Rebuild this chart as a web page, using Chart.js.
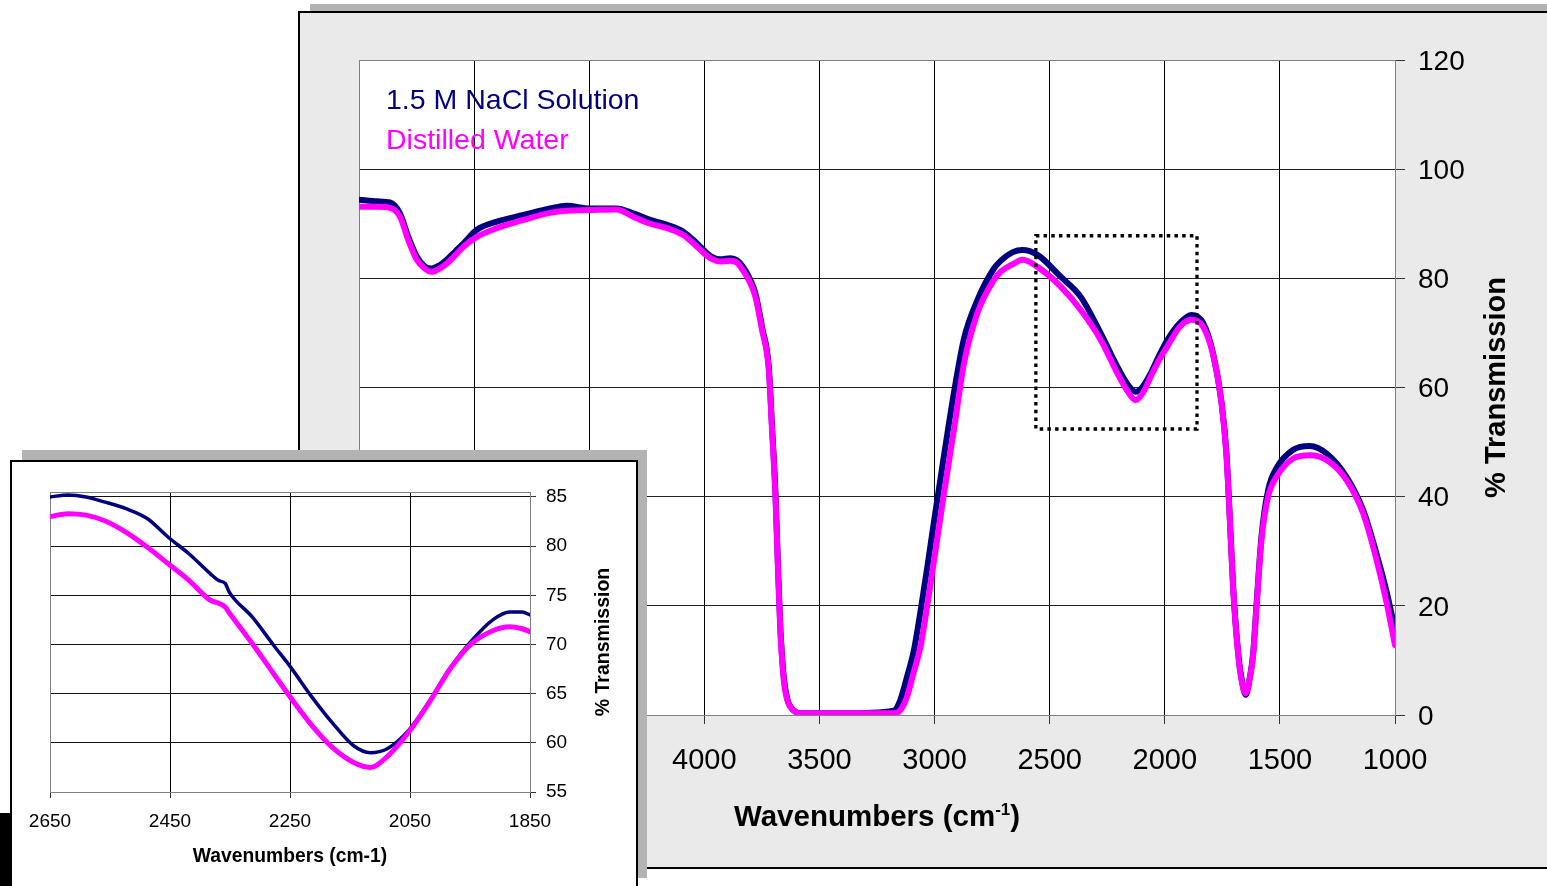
<!DOCTYPE html>
<html>
<head>
<meta charset="utf-8">
<title>IR transmission spectra</title>
<script src="https://cdn.jsdelivr.net/npm/chart.js@4.4.0/dist/chart.umd.min.js"></script>
<style>
  html, body { margin: 0; padding: 0; background: #fff; overflow: hidden; }
  body { width: 1547px; height: 886px; position: relative; }
  .box { position: absolute; box-sizing: border-box; }
  #mainShadow { left: 310px; top: 4px; width: 1300px; height: 850px; background: #b3b3b3; }
  #mainPanel { left: 298px; top: 11px; width: 1300px; height: 858px; background: #eaeaea; border: 2px solid #000; }
  #corner { left: 0; top: 813px; width: 10px; height: 73px; background: #000; }
  #insetShadow { left: 22px; top: 450px; width: 625px; height: 428px; background: #b3b3b3; }
  #insetPanel { left: 10px; top: 460px; width: 628px; height: 440px; background: #fff; border: 2px solid #000; }
  canvas { position: absolute; }
  #mainCanvas { left: 0; top: 0; }
  #insetCanvas { left: 0; top: 440px; }
</style>
</head>
<body>
<div class="box" id="mainShadow"></div>
<div class="box" id="mainPanel"></div>
<canvas id="mainCanvas" width="1547" height="886"></canvas>
<div class="box" id="corner"></div>
<div class="box" id="insetShadow"></div>
<div class="box" id="insetPanel"></div>
<canvas id="insetCanvas" width="660" height="446"></canvas>

<script>
// --- Data: full spectrum (wavenumber, % transmission) ---
const mainWavenumbers = [5500, 5420, 5365, 5322, 5286, 5249, 5215, 5184, 5150, 5119, 5080, 5046, 4988, 4901, 4785, 4670, 4598, 4497, 4381, 4309, 4235, 4162, 4090, 4032, 3974, 3930, 3887, 3857, 3830, 3800, 3778, 3749, 3720, 3706, 3691, 3681, 3670, 3655, 3640, 3626, 3600, 3583, 3400, 3178, 3150, 3119, 3090, 3061, 3030, 3004, 2961, 2916, 2872, 2814, 2742, 2713, 2660, 2618, 2553, 2452, 2365, 2278, 2206, 2160, 2126, 2095, 2061, 2025, 1989, 1935, 1884, 1833, 1790, 1753, 1732, 1717, 1703, 1681, 1665, 1648, 1632, 1616, 1601, 1580, 1551, 1515, 1442, 1370, 1297, 1210, 1138, 1080, 1036, 1000];
const mainNaCl = [94.4, 94.1, 93.9, 91.9, 87.6, 84.0, 82.2, 81.8, 82.4, 83.4, 85.0, 86.4, 88.9, 90.4, 91.6, 92.8, 93.3, 92.8, 92.8, 91.9, 90.7, 89.8, 88.5, 86.4, 84.1, 83.5, 83.7, 83.3, 82.0, 79.7, 77.2, 71.0, 63.8, 53.0, 40.8, 28.5, 16.2, 7.0, 3.0, 1.5, 0.5, 0.3, 0.3, 0.8, 2.6, 7.1, 11.8, 19.0, 27.5, 35.0, 47.0, 59.0, 69.0, 76.0, 81.8, 83.2, 84.8, 85.2, 84.3, 80.3, 76.6, 69.9, 63.8, 60.5, 59.2, 60.2, 62.6, 65.8, 68.7, 71.8, 73.3, 71.8, 66.2, 57.1, 47.9, 35.7, 23.5, 11.3, 6.3, 3.7, 6.5, 11.3, 20.5, 32.7, 41.2, 45.2, 48.6, 49.3, 47.9, 43.6, 37.5, 29.5, 22.5, 15.6];
const mainWater = [93.1, 93.1, 92.9, 91.3, 87.0, 83.4, 81.8, 81.2, 81.8, 82.7, 84.3, 85.8, 87.6, 89.2, 90.7, 92.0, 92.4, 92.5, 92.6, 91.3, 90.0, 89.2, 87.9, 85.8, 83.7, 83.1, 83.2, 82.8, 81.3, 79.1, 76.6, 70.5, 63.2, 52.2, 40.0, 27.8, 15.6, 6.4, 2.8, 1.5, 0.5, 0.3, 0.3, 0.3, 0.8, 3.4, 7.9, 12.5, 20.5, 27.8, 40.0, 52.2, 64.4, 73.6, 79.7, 81.2, 82.6, 83.4, 82.1, 78.5, 74.2, 68.7, 62.6, 59.2, 57.7, 59.0, 62.0, 65.0, 67.5, 71.1, 72.4, 71.1, 66.0, 57.0, 47.5, 35.5, 23.2, 11.0, 6.0, 4.0, 6.5, 11.0, 20.0, 32.0, 40.0, 43.6, 47.0, 47.6, 46.7, 43.0, 36.9, 28.4, 20.5, 12.8];

// --- Data: zoomed region 2650-1850 ---
const insetWavenumbers = [2650, 2620, 2590, 2560, 2523, 2488, 2453, 2418, 2383, 2369, 2358, 2351, 2313, 2277, 2249, 2214, 2179, 2144, 2116, 2088, 2052, 2017, 1982, 1947, 1912, 1884, 1863, 1850];
const insetNaCl = [85.0, 85.2, 85.0, 84.5, 83.8, 82.8, 80.9, 79.2, 77.2, 76.5, 76.2, 75.3, 72.8, 69.9, 67.7, 64.7, 62.0, 59.7, 59.0, 59.4, 61.3, 64.3, 67.7, 70.4, 72.5, 73.3, 73.3, 73.0];
const insetWater = [83.0, 83.3, 83.15, 82.6, 81.4, 79.9, 78.2, 76.5, 74.5, 74.2, 73.8, 73.2, 70.1, 67.0, 64.6, 61.8, 59.5, 58.0, 57.5, 58.6, 61.1, 64.2, 67.6, 70.1, 71.4, 71.8, 71.6, 71.3];
const insetYTicks = [55, 60, 65, 70, 75, 80, 85];

// dotted box marking the zoomed region on the full spectrum
const zoomBoxWavenumbers = [2560, 1860];
const zoomBoxTransmission = [52.4, 87.8];

const seriesNames = ["1.5 M NaCl Solution", "Distilled Water"];
const seriesColors = ["#000080", "#ff00ff"];

const FONT = "'Liberation Sans', Arial, Helvetica, sans-serif";

function toPoints(xs, ys) {
  return xs.map((x, i) => ({ x: x, y: ys[i] }));
}

// plain numbers, no thousands separator
const plainTick = (value) => String(value);

// --- Plugin: plot fill, frame, legend text, zoom box, axis titles ---
const decorPlugin = {
  id: "decor",
  beforeDraw(chart, args, opts) {
    const { ctx, chartArea: a } = chart;
    if (opts.plotFill) {
      ctx.save();
      ctx.fillStyle = opts.plotFill;
      ctx.fillRect(a.left, a.top, a.right - a.left, a.bottom - a.top);
      ctx.restore();
    }
  },
  beforeDatasetsDraw(chart, args, opts) {
    const { ctx, chartArea: a } = chart;
    ctx.save();
    ctx.strokeStyle = opts.frameColor;
    ctx.lineWidth = 1;
    ctx.strokeRect(Math.round(a.left) + 0.5, Math.round(a.top) + 0.5,
      Math.round(a.right - a.left), Math.round(a.bottom - a.top));
    ctx.restore();
  },
  afterDatasetsDraw(chart, args, opts) {
    const { ctx, chartArea: a, scales } = chart;
    if (opts.zoomBox) {
      const x1 = scales.x.getPixelForValue(zoomBoxWavenumbers[0]);
      const x2 = scales.x.getPixelForValue(zoomBoxWavenumbers[1]);
      const y1 = scales.y.getPixelForValue(zoomBoxTransmission[1]);
      const y2 = scales.y.getPixelForValue(zoomBoxTransmission[0]);
      ctx.save();
      ctx.strokeStyle = "#000";
      ctx.lineWidth = 3.3;
      ctx.setLineDash([3.5, 4.2]);
      ctx.strokeRect(x1, y1, x2 - x1, y2 - y1);
      ctx.restore();
    }
    if (opts.legend) {
      ctx.save();
      ctx.font = opts.legend.font;
      ctx.textAlign = "left";
      ctx.textBaseline = "alphabetic";
      seriesNames.forEach((name, i) => {
        ctx.fillStyle = seriesColors[i];
        ctx.fillText(name, a.left + opts.legend.dx, a.top + opts.legend.baselines[i]);
      });
      ctx.restore();
    }
  },
  afterDraw(chart, args, opts) {
    const { ctx, chartArea: a } = chart;
    const cx = (a.left + a.right) / 2;
    const cy = (a.top + a.bottom) / 2;

    // x title, with optional superscript part
    const xt = opts.xTitle;
    ctx.save();
    ctx.fillStyle = "#000";
    ctx.textBaseline = "alphabetic";
    ctx.textAlign = "left";
    const baseFont = "bold " + xt.size + "px " + FONT;
    const supFont = "bold " + (xt.supSize || xt.size) + "px " + FONT;
    ctx.font = baseFont;
    const w1 = ctx.measureText(xt.parts[0]).width;
    const w3 = xt.parts[2] ? ctx.measureText(xt.parts[2]).width : 0;
    ctx.font = supFont;
    const w2 = xt.parts[1] ? ctx.measureText(xt.parts[1]).width : 0;
    let x = cx - (w1 + w2 + w3) / 2;
    const by = a.bottom + xt.dy;
    ctx.font = baseFont;
    ctx.fillText(xt.parts[0], x, by);
    x += w1;
    if (xt.parts[1]) {
      ctx.font = supFont;
      ctx.fillText(xt.parts[1], x, by - xt.supRise);
      x += w2;
    }
    if (xt.parts[2]) {
      ctx.font = baseFont;
      ctx.fillText(xt.parts[2], x, by);
    }
    ctx.restore();

    // y title, rotated to read upwards
    const yt = opts.yTitle;
    ctx.save();
    ctx.translate(a.right + yt.dx, cy);
    ctx.rotate(-Math.PI / 2);
    ctx.font = "bold " + yt.size + "px " + FONT;
    ctx.fillStyle = "#000";
    ctx.textAlign = "center";
    ctx.textBaseline = "alphabetic";
    ctx.fillText(yt.text, 0, 0);
    ctx.restore();
  }
};

// --- Full spectrum ---
const mainCtx = document.getElementById("mainCanvas");
new Chart(mainCtx, {
  type: "line",
  data: {
    datasets: [
      {
        label: seriesNames[1],
        data: toPoints(mainWavenumbers, mainWater),
        borderColor: seriesColors[1],
        borderWidth: 6
      },
      {
        label: seriesNames[0],
        data: toPoints(mainWavenumbers, mainNaCl),
        borderColor: seriesColors[0],
        borderWidth: 6
      }
    ]
  },
  options: {
    responsive: false,
    animation: false,
    events: [],
    layout: { padding: { left: 359, top: 60, right: 20, bottom: 20 } },
    elements: {
      point: { radius: 0 },
      line: { cubicInterpolationMode: "monotone", fill: false, borderJoinStyle: "round", borderCapStyle: "round" }
    },
    plugins: {
      legend: { display: false },
      tooltip: { enabled: false },
      decor: {
        plotFill: "#ffffff",
        frameColor: "#808080",
        zoomBox: true,
        legend: { font: "28.5px " + FONT, dx: 27, baselines: [48.5, 89] },
        xTitle: { parts: ["Wavenumbers (cm", "-1", ")"], size: 29.5, supSize: 17, supRise: 11, dy: 111 },
        yTitle: { text: "% Transmission", size: 29, dx: 110 }
      }
    },
    scales: {
      x: {
        type: "linear",
        reverse: true,
        min: 1000,
        max: 5500,
        ticks: {
          stepSize: 500,
          autoSkip: false,
          maxRotation: 0,
          padding: 20,
          color: "#000",
          font: { family: FONT, size: 29 },
          callback: plainTick
        },
        grid: { color: "#000", tickColor: "#333", tickLength: 9, lineWidth: 1 },
        border: { color: "#808080" },
        afterFit: (scale) => { scale.height = 151; }
      },
      y: {
        position: "right",
        min: 0,
        max: 120,
        ticks: {
          stepSize: 20,
          padding: 13,
          labelOffset: 2,
          color: "#000",
          font: { family: FONT, size: 28 },
          callback: plainTick
        },
        grid: { color: "#222", tickColor: "#333", tickLength: 10, lineWidth: 1 },
        border: { color: "#808080" },
        afterFit: (scale) => { scale.width = 132; }
      }
    }
  },
  plugins: [decorPlugin]
});

// --- Inset: zoomed region ---
const insetCtx = document.getElementById("insetCanvas");
new Chart(insetCtx, {
  type: "line",
  data: {
    datasets: [
      {
        label: seriesNames[1],
        data: toPoints(insetWavenumbers, insetWater),
        borderColor: seriesColors[1],
        borderWidth: 5
      },
      {
        label: seriesNames[0],
        data: toPoints(insetWavenumbers, insetNaCl),
        borderColor: seriesColors[0],
        borderWidth: 3.5
      }
    ]
  },
  options: {
    responsive: false,
    animation: false,
    events: [],
    layout: { padding: { left: 50, top: 52, right: 10, bottom: 10 } },
    elements: {
      point: { radius: 0 },
      line: { cubicInterpolationMode: "monotone", fill: false, borderJoinStyle: "round", borderCapStyle: "round" }
    },
    plugins: {
      legend: { display: false },
      tooltip: { enabled: false },
      decor: {
        frameColor: "#808080",
        xTitle: { parts: ["Wavenumbers (cm-1)"], size: 19.3, dy: 69.5 },
        yTitle: { text: "% Transmission", size: 19.5, dx: 79 }
      }
    },
    scales: {
      x: {
        type: "linear",
        reverse: true,
        min: 1850,
        max: 2650,
        ticks: {
          stepSize: 200,
          autoSkip: false,
          maxRotation: 0,
          padding: 12,
          color: "#000",
          font: { family: FONT, size: 19 },
          callback: plainTick
        },
        grid: { color: "#000", tickColor: "#333", tickLength: 6, lineWidth: 1 },
        border: { color: "#808080" },
        afterFit: (scale) => { scale.height = 84; }
      },
      y: {
        position: "right",
        min: 55,
        max: 85.5,
        afterBuildTicks: (scale) => { scale.ticks = insetYTicks.map((v) => ({ value: v })); },
        ticks: {
          padding: 10,
          color: "#000",
          font: { family: FONT, size: 19 },
          callback: plainTick
        },
        grid: { color: "#111", tickColor: "#333", tickLength: 6, lineWidth: 1 },
        border: { color: "#808080" },
        afterFit: (scale) => { scale.width = 120; }
      }
    }
  },
  plugins: [decorPlugin]
});
</script>
</body>
</html>
